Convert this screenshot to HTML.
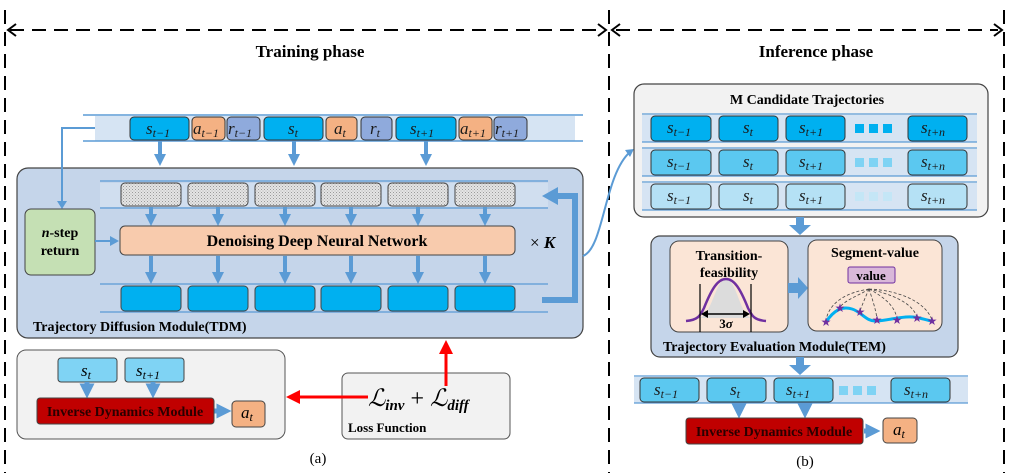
<!DOCTYPE html>
<html><head><meta charset="utf-8"><style>
html,body{margin:0;padding:0;background:#fff}
svg{display:block}
text{font-family:"Liberation Serif",serif}
.b{font-weight:bold}
.m{font-style:italic}
</style></head><body>
<svg width="1011" height="473" viewBox="0 0 1011 473" xmlns="http://www.w3.org/2000/svg">
<defs>
<pattern id="dots" width="3" height="3" patternUnits="userSpaceOnUse"><rect width="3" height="3" fill="#e4e4e4"/><rect width="1" height="1" fill="#9a9a9a"/><rect x="1.5" y="1.5" width="1" height="1" fill="#b0b0b0"/></pattern>
<marker id="ah" markerWidth="3" markerHeight="3" refX="1.5" refY="1.5" orient="auto" markerUnits="strokeWidth"><path d="M0,0 L3,1.5 L0,3z" fill="#5b9bd5"/></marker>
</defs>
<g stroke="#000" stroke-width="2" stroke-dasharray="14,8" fill="none">
<line x1="5" y1="10" x2="5" y2="473"/>
<line x1="609" y1="10" x2="609" y2="473"/>
<line x1="1004" y1="10" x2="1004" y2="473"/>
<line x1="10" y1="30" x2="602" y2="30"/>
<line x1="616" y1="30" x2="998" y2="30"/>
</g>
<g stroke="#000" stroke-width="2" fill="none">
<path d="M16,24 L8,30 L16,36"/><path d="M598,24 L606,30 L598,36"/>
<path d="M620,24 L612,30 L620,36"/><path d="M994,24 L1002,30 L994,36"/>
</g>
<text x="310" y="57" font-size="17" class="b" text-anchor="middle">Training phase</text>
<text x="816" y="57" font-size="17" class="b" text-anchor="middle">Inference phase</text>

<rect x="95" y="116" width="480" height="25" fill="#d6e4f3"/>
<line x1="83" y1="115" x2="583" y2="115" stroke="#5b9bd5" stroke-width="1.5"/>
<line x1="83" y1="141" x2="583" y2="141" stroke="#5b9bd5" stroke-width="1.5"/>
<g stroke="#333" stroke-width="1">
<rect x="130" y="117" width="59" height="23" rx="4" fill="#00b0f0"/>
<rect x="192" y="117" width="33" height="23" rx="4" fill="#f4b183"/>
<rect x="227" y="117" width="33" height="23" rx="4" fill="#8faadc"/>
<rect x="264" y="117" width="59" height="23" rx="4" fill="#00b0f0"/>
<rect x="326" y="117" width="31" height="23" rx="4" fill="#f4b183"/>
<rect x="361" y="117" width="31" height="23" rx="4" fill="#8faadc"/>
<rect x="396" y="117" width="60" height="23" rx="4" fill="#00b0f0"/>
<rect x="459" y="117" width="33" height="23" rx="4" fill="#f4b183"/>
<rect x="494" y="117" width="33" height="23" rx="4" fill="#8faadc"/>
</g>
<g font-size="17" class="m" fill="#1a1a1a">
<text x="146" y="134">s<tspan font-size="12" dy="3">t−1</tspan></text>
<text x="193" y="134">a<tspan font-size="12" dy="3">t−1</tspan></text>
<text x="228" y="134">r<tspan font-size="12" dy="3">t−1</tspan></text>
<text x="288" y="134">s<tspan font-size="12" dy="3">t</tspan></text>
<text x="334" y="134">a<tspan font-size="12" dy="3">t</tspan></text>
<text x="370" y="134">r<tspan font-size="12" dy="3">t</tspan></text>
<text x="410" y="134">s<tspan font-size="12" dy="3">t+1</tspan></text>
<text x="460" y="134">a<tspan font-size="12" dy="3">t+1</tspan></text>
<text x="495" y="134">r<tspan font-size="12" dy="3">t+1</tspan></text>
</g>

<rect x="17" y="168" width="566" height="170" rx="11" fill="#c5d5ea" stroke="#444" stroke-width="1.2"/>
<g stroke="#5b9bd5" stroke-width="4" marker-end="url(#ah)">
<line x1="160" y1="141" x2="160" y2="160"/>
<line x1="294" y1="141" x2="294" y2="160"/>
<line x1="426" y1="141" x2="426" y2="160"/>
</g>
<path d="M95,128 L62,128 L62,203" stroke="#5b9bd5" stroke-width="2" fill="none"/>
<path d="M57,201 L62,209 L67,201z" fill="#5b9bd5"/>
<rect x="100" y="183" width="448" height="24" fill="#d0deef"/>
<line x1="100" y1="181" x2="548" y2="181" stroke="#5b9bd5" stroke-width="1.2"/>
<line x1="100" y1="208" x2="548" y2="208" stroke="#5b9bd5" stroke-width="1.2"/>
<line x1="100" y1="284" x2="548" y2="284" stroke="#5b9bd5" stroke-width="1.2"/>
<line x1="100" y1="312" x2="548" y2="312" stroke="#5b9bd5" stroke-width="1.2"/>
<g stroke="#444" stroke-width="1">
<rect x="121" y="183" width="60" height="23" rx="4" fill="url(#dots)"/>
<rect x="188" y="183" width="60" height="23" rx="4" fill="url(#dots)"/>
<rect x="255" y="183" width="60" height="23" rx="4" fill="url(#dots)"/>
<rect x="321" y="183" width="60" height="23" rx="4" fill="url(#dots)"/>
<rect x="388" y="183" width="60" height="23" rx="4" fill="url(#dots)"/>
<rect x="455" y="183" width="60" height="23" rx="4" fill="url(#dots)"/>
<rect x="121" y="286" width="60" height="25" rx="4" fill="#00b0f0"/>
<rect x="188" y="286" width="60" height="25" rx="4" fill="#00b0f0"/>
<rect x="255" y="286" width="60" height="25" rx="4" fill="#00b0f0"/>
<rect x="321" y="286" width="60" height="25" rx="4" fill="#00b0f0"/>
<rect x="388" y="286" width="60" height="25" rx="4" fill="#00b0f0"/>
<rect x="455" y="286" width="60" height="25" rx="4" fill="#00b0f0"/>
</g>
<g stroke="#5b9bd5" stroke-width="4" marker-end="url(#ah)">
<line x1="151" y1="207" x2="151" y2="220"/><line x1="218" y1="207" x2="218" y2="220"/>
<line x1="285" y1="207" x2="285" y2="220"/><line x1="351" y1="207" x2="351" y2="220"/>
<line x1="418" y1="207" x2="418" y2="220"/><line x1="485" y1="207" x2="485" y2="220"/>
<line x1="151" y1="256" x2="151" y2="278"/><line x1="218" y1="256" x2="218" y2="278"/>
<line x1="285" y1="256" x2="285" y2="278"/><line x1="351" y1="256" x2="351" y2="278"/>
<line x1="418" y1="256" x2="418" y2="278"/><line x1="485" y1="256" x2="485" y2="278"/>
</g>
<rect x="120" y="226" width="395" height="29" rx="5" fill="#f8cbad" stroke="#444" stroke-width="1"/>
<text x="317" y="246" font-size="16" class="b" text-anchor="middle">Denoising Deep Neural Network</text>
<text x="530" y="248" font-size="17">× <tspan class="b m">K</tspan></text>
<rect x="25" y="209" width="70" height="66" rx="6" fill="#c5e0b4" stroke="#444" stroke-width="1"/>
<text x="60" y="237" font-size="14" class="b" text-anchor="middle"><tspan class="m">n</tspan>-step</text>
<text x="60" y="255" font-size="14" class="b" text-anchor="middle">return</text>
<line x1="95" y1="241" x2="112" y2="241" stroke="#5b9bd5" stroke-width="2"/>
<path d="M110,236 L119,241 L110,246z" fill="#5b9bd5"/>
<path d="M542,300 L575,300 L575,196 L556,196" stroke="#5b9bd5" stroke-width="6" fill="none"/>
<path d="M558,187 L542,196 L558,205z" fill="#5b9bd5"/>
<text x="33" y="331" font-size="14" class="b">Trajectory Diffusion Module(TDM)</text>
<path d="M583,256 C604,248 604,175 630,152" stroke="#5b9bd5" stroke-width="2" fill="none"/>
<path d="M625,150 L634,149 L630,157z" fill="#5b9bd5"/>

<rect x="17" y="350" width="268" height="89" rx="9" fill="#f2f2f2" stroke="#555" stroke-width="1"/>
<rect x="58" y="358" width="59" height="24" rx="3" fill="#7fd3f4" stroke="#444"/>
<rect x="125" y="358" width="59" height="24" rx="3" fill="#7fd3f4" stroke="#444"/>
<g font-size="17" class="m"><text x="81" y="376">s<tspan font-size="12" dy="3">t</tspan></text>
<text x="136" y="376">s<tspan font-size="12" dy="3">t+1</tspan></text></g>
<g stroke="#5b9bd5" stroke-width="5" marker-end="url(#ah)">
<line x1="87" y1="382" x2="87" y2="391"/><line x1="153" y1="382" x2="153" y2="391"/>
<line x1="214" y1="411" x2="224" y2="411"/></g>
<rect x="37" y="398" width="177" height="26" rx="3" fill="#c00000" stroke="#444"/>
<text x="125" y="416" font-size="14" class="b" fill="#2a0000" text-anchor="middle">Inverse Dynamics Module</text>
<rect x="232" y="401" width="33" height="26" rx="4" fill="#f4b183" stroke="#444"/>
<text x="241" y="418" font-size="17" class="m">a<tspan font-size="12" dy="3">t</tspan></text>
<rect x="342" y="373" width="168" height="66" rx="6" fill="#f2f2f2" stroke="#555"/>
<text x="368" y="406" font-size="24" class="m">ℒ<tspan font-size="15" dy="4" class="b">inv</tspan><tspan dy="-4" font-style="normal"> + </tspan>ℒ<tspan font-size="15" dy="4" class="b">diff</tspan></text>
<text x="348" y="432" font-size="13" class="b">Loss Function</text>
<line x1="368" y1="397" x2="298" y2="397" stroke="#ff0000" stroke-width="3"/>
<path d="M300,390 L286,397 L300,404z" fill="#ff0000"/>
<line x1="446" y1="386" x2="446" y2="352" stroke="#ff0000" stroke-width="3"/>
<path d="M439,354 L446,340 L453,354z" fill="#ff0000"/>
<text x="318" y="463" font-size="15" text-anchor="middle">(a)</text>

<rect x="634" y="84" width="354" height="133" rx="10" fill="#f2f2f2" stroke="#444" stroke-width="1.2"/>
<text x="807" y="104" font-size="14" class="b" text-anchor="middle">M Candidate Trajectories</text>
<rect x="642" y="115" width="335" height="27" fill="#d6e4f3"/>
<rect x="642" y="149" width="335" height="27" fill="#d6e4f3"/>
<rect x="642" y="183" width="335" height="27" fill="#d6e4f3"/>
<g stroke="#5b9bd5" stroke-width="1.2">
<line x1="642" y1="114" x2="977" y2="114"/><line x1="642" y1="142" x2="977" y2="142"/>
<line x1="642" y1="148" x2="977" y2="148"/><line x1="642" y1="176" x2="977" y2="176"/>
<line x1="642" y1="182" x2="977" y2="182"/><line x1="642" y1="210" x2="977" y2="210"/></g>
<g stroke="#333" stroke-width="1">
<rect x="651" y="116" width="60" height="25" rx="4" fill="#00b0f0"/><rect x="719" y="116" width="59" height="25" rx="4" fill="#00b0f0"/><rect x="786" y="116" width="59" height="25" rx="4" fill="#00b0f0"/><rect x="908" y="116" width="59" height="25" rx="4" fill="#00b0f0"/>
<rect x="651" y="150" width="60" height="25" rx="4" fill="#5bc8f0"/><rect x="719" y="150" width="59" height="25" rx="4" fill="#5bc8f0"/><rect x="786" y="150" width="59" height="25" rx="4" fill="#5bc8f0"/><rect x="908" y="150" width="59" height="25" rx="4" fill="#5bc8f0"/>
<rect x="651" y="184" width="60" height="25" rx="4" fill="#b5e1f5"/><rect x="719" y="184" width="59" height="25" rx="4" fill="#b5e1f5"/><rect x="786" y="184" width="59" height="25" rx="4" fill="#b5e1f5"/><rect x="908" y="184" width="59" height="25" rx="4" fill="#b5e1f5"/>
</g>
<g fill="#00b0f0"><rect x="855" y="124" width="9" height="9"/><rect x="869" y="124" width="9" height="9"/><rect x="883" y="124" width="9" height="9"/></g>
<g fill="#7fd3f4"><rect x="855" y="158" width="9" height="9"/><rect x="869" y="158" width="9" height="9"/><rect x="883" y="158" width="9" height="9"/></g>
<g fill="#c4e6f6"><rect x="855" y="192" width="9" height="9"/><rect x="869" y="192" width="9" height="9"/><rect x="883" y="192" width="9" height="9"/></g>
<g font-size="17" class="m" fill="#1a1a1a">
<text x="667" y="133">s<tspan font-size="12" dy="3">t−1</tspan></text><text x="743" y="133">s<tspan font-size="12" dy="3">t</tspan></text><text x="799" y="133">s<tspan font-size="12" dy="3">t+1</tspan></text><text x="921" y="133">s<tspan font-size="12" dy="3">t+n</tspan></text>
<text x="667" y="167">s<tspan font-size="12" dy="3">t−1</tspan></text><text x="743" y="167">s<tspan font-size="12" dy="3">t</tspan></text><text x="799" y="167">s<tspan font-size="12" dy="3">t+1</tspan></text><text x="921" y="167">s<tspan font-size="12" dy="3">t+n</tspan></text>
<text x="667" y="201">s<tspan font-size="12" dy="3">t−1</tspan></text><text x="743" y="201">s<tspan font-size="12" dy="3">t</tspan></text><text x="799" y="201">s<tspan font-size="12" dy="3">t+1</tspan></text><text x="921" y="201">s<tspan font-size="12" dy="3">t+n</tspan></text>
</g>
<path d="M796,217 L804,217 L804,225 L811,225 L800,235 L789,225 L796,225z" fill="#5b9bd5"/>

<rect x="651" y="236" width="307" height="121" rx="9" fill="#c5d5ea" stroke="#444" stroke-width="1.2"/>
<rect x="670" y="241" width="118" height="91" rx="9" fill="#fbe5d6" stroke="#444"/>
<rect x="808" y="240" width="134" height="91" rx="9" fill="#fbe5d6" stroke="#444"/>
<text x="729" y="260" font-size="14" class="b" text-anchor="middle">Transition-</text>
<text x="729" y="277" font-size="14" class="b" text-anchor="middle">feasibility</text>
<path d="M700,318 C712,314 716,279 726,279 C736,279 740,314 751,318z" fill="#dcdcdc"/>
<path d="M686,321 C698,320 700,316 704,308 C712,288 718,279 726,279 C734,279 740,288 748,308 C752,316 754,320 766,321" stroke="#7030a0" stroke-width="2.5" fill="none"/>
<line x1="700" y1="284" x2="700" y2="332" stroke="#000" stroke-width="1.2"/>
<line x1="751" y1="284" x2="751" y2="332" stroke="#000" stroke-width="1.2"/>
<line x1="704" y1="314" x2="747" y2="314" stroke="#000" stroke-width="1.5"/>
<path d="M708,310 L701,314 L708,318z M743,310 L750,314 L743,318z" fill="#000"/>
<text x="726" y="328" font-size="13" class="b" text-anchor="middle">3<tspan class="m">σ</tspan></text>
<path d="M788,283 L798,283 L798,277 L808,288 L798,299 L798,293 L788,293z" fill="#5b9bd5"/>
<text x="875" y="257" font-size="14" class="b" text-anchor="middle">Segment-value</text>
<rect x="848" y="267" width="47" height="16" rx="2" fill="#d9b8d9" stroke="#7030a0"/>
<text x="871" y="280" font-size="13" class="b" text-anchor="middle">value</text>
<g stroke="#444" stroke-width="0.8" stroke-dasharray="3,2" fill="none">
<path d="M869,289 C850,292 830,300 826,320"/><path d="M869,289 C860,295 845,300 840,307"/>
<path d="M869,289 C866,296 862,305 860,311"/><path d="M869,289 C872,298 876,310 877,319"/>
<path d="M869,289 C882,296 895,305 897,319"/><path d="M869,289 C890,294 912,302 917,317"/>
<path d="M869,289 C895,290 925,300 932,320"/></g>
<path d="M826,322 C834,310 842,306 852,309 C862,312 866,322 877,321 C888,320 895,318 906,317 C918,316 924,320 932,321" stroke="#00b0f0" stroke-width="3" fill="none"/>
<g fill="#7030a0" font-size="12" text-anchor="middle">
<text x="826" y="326">★</text><text x="840" y="312">★</text><text x="860" y="316">★</text><text x="877" y="324">★</text><text x="897" y="324">★</text><text x="917" y="322">★</text><text x="932" y="325">★</text></g>
<text x="663" y="351" font-size="14" class="b">Trajectory Evaluation Module(TEM)</text>
<path d="M796,357 L804,357 L804,365 L811,365 L800,375 L789,365 L796,365z" fill="#5b9bd5"/>

<rect x="634" y="377" width="334" height="26" fill="#d6e4f3"/>
<line x1="634" y1="376" x2="968" y2="376" stroke="#5b9bd5" stroke-width="1.2"/>
<line x1="634" y1="403" x2="968" y2="403" stroke="#5b9bd5" stroke-width="1.2"/>
<g stroke="#333" stroke-width="1" fill="#5bc8f0">
<rect x="640" y="378" width="59" height="24" rx="4"/><rect x="707" y="378" width="59" height="24" rx="4"/><rect x="774" y="378" width="59" height="24" rx="4"/><rect x="891" y="378" width="59" height="24" rx="4"/></g>
<g fill="#7fd3f4"><rect x="839" y="386" width="9" height="9"/><rect x="853" y="386" width="9" height="9"/><rect x="867" y="386" width="9" height="9"/></g>
<g font-size="17" class="m" fill="#1a1a1a">
<text x="654" y="395">s<tspan font-size="12" dy="3">t−1</tspan></text><text x="730" y="395">s<tspan font-size="12" dy="3">t</tspan></text><text x="786" y="395">s<tspan font-size="12" dy="3">t+1</tspan></text><text x="904" y="395">s<tspan font-size="12" dy="3">t+n</tspan></text></g>
<g stroke="#5b9bd5" stroke-width="5" marker-end="url(#ah)">
<line x1="739" y1="403" x2="739" y2="411"/><line x1="805" y1="403" x2="805" y2="411"/>
<line x1="864" y1="431" x2="873" y2="431"/></g>
<rect x="686" y="418" width="177" height="26" rx="3" fill="#c00000" stroke="#444"/>
<text x="774" y="436" font-size="14" class="b" fill="#2a0000" text-anchor="middle">Inverse Dynamics Module</text>
<rect x="883" y="418" width="34" height="25" rx="4" fill="#f4b183" stroke="#444"/>
<text x="893" y="435" font-size="17" class="m">a<tspan font-size="12" dy="3">t</tspan></text>
<text x="805" y="466" font-size="15" text-anchor="middle">(b)</text>
</svg>
</body></html>
